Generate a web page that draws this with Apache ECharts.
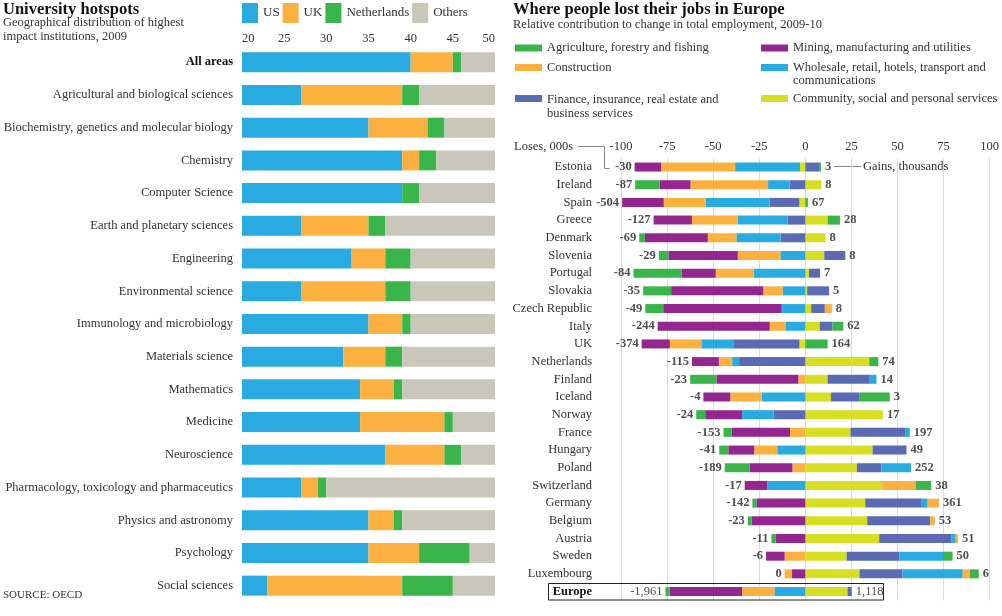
<!DOCTYPE html>
<html><head><meta charset="utf-8">
<script src="https://cdn.jsdelivr.net/npm/echarts@6/dist/echarts.min.js"></script>
<style>html,body{margin:0;padding:0;background:#fff}#c{width:1002px;height:616px}</style>
</head><body><div id="c"></div>
<script>
// ---------- Left chart data: University hotspots ----------
const fields = ['All areas','Agricultural and biological sciences','Biochemistry, genetics and molecular biology','Chemistry','Computer Science','Earth and planetary sciences','Engineering','Environmental science','Immunology and microbiology','Materials science','Mathematics','Medicine','Neuroscience','Pharmacology, toxicology and pharmaceutics','Physics and astronomy','Psychology','Social sciences'];
const usVals     = [40,27,35,39,39,27,33,27,35,32,34,34,37,27,35,35,23];
const ukVals     = [5,12,7,2,0,8,4,10,4,5,4,10,7,2,3,6,16];
const nlVals     = [1,2,2,2,2,2,3,3,1,2,1,1,2,1,1,6,6];
const otherVals  = [4,9,6,7,9,13,10,10,10,11,11,5,4,20,11,3,5];
const leftTicks  = [20,25,30,35,40,45,50];

// ---------- Right chart data: Where people lost their jobs ----------
const countries = ['Estonia','Ireland','Spain','Greece','Denmark','Slovenia','Portugal','Slovakia','Czech Republic','Italy','UK','Netherlands','Finland','Iceland','Norway','France','Hungary','Poland','Switzerland','Germany','Belgium','Austria','Sweden','Luxembourg','Europe'];
const community    = [-2.9,8.7,-3.2,12.1,11.0,10.3,2.0,1.0,3.2,7.8,-3.2,34.7,12.1,13.9,42.1,24.5,36.5,28.0,41.7,32.5,33.6,40.1,22.4,29.4,22.9];
const finance      = [7.4,-8.5,-16.2,-9.7,-13.4,11.4,6.0,11.9,7.4,7.0,-35.9,-35.9,22.9,15.3,-17.3,30.0,18.4,13.2,0,30.7,34.1,39.0,28.7,23.3,2.3];
const wholesale    = [-35.2,-11.7,-34.7,-26.9,-24.0,-13.5,-28.0,-12.3,-12.8,-10.5,-17.3,-3.8,3.6,-23.6,-17.0,2.2,-15.2,16.2,-20.6,3.2,0,2.5,23.6,32.7,-16.8];
const construction = [-40.1,-42.1,-22.7,-24.9,-15.5,-23.1,-20.6,-10.5,3.8,-8.8,-17.1,-7.2,-3.8,-17.1,0,-8.3,-12.5,-7.0,18.1,6.1,2.5,1.3,-11.2,3.8,-17.5];
const mining       = [-14.4,-16.8,-22.6,-20.8,-34.1,-37.7,-18.4,-50.0,-64.3,-60.8,-15.3,-14.6,-44.4,-14.6,-20.0,-31.8,-14.1,-23.3,-12.3,-26.5,-29.2,-16.2,-10.1,-7.2,-39.4];
const agriculture  = [1.1,-13.2,1.4,6.7,-3.1,-5.2,-26.2,-15.2,-9.7,5.8,12.1,4.9,-14.3,16.6,-4.9,-4.3,-4.9,-13.4,8.5,-2.2,-2.0,-2.2,5.2,4.9,-2.2];
const constructionOuter = [0,0,0,0,0,0,0,0,0,0,0,0,0,0,0,0,0,0,0,0,0,0,0,-4.0,0];
const lossLabels = ['-30','-87','-504','-127','-69','-29','-84','-35','-49','-244','-374','-115','-23','-4','-24','-153','-41','-189','-17','-142','-23','-11','-6','0','-1,961'];
const gainLabels = ['3','8','67','28','8','8','7','5','8','62','164','74','14','3','17','197','49','252','38','361','53','51','50','6','1,118'];
const rightTicks = [-100,-75,-50,-25,0,25,50,75,100];

const FONT = 'Liberation Serif';
const C = {us:'#29abe2', uk:'#fbb040', nl:'#39b54a', oth:'#c9c7b9',
  agri:'#39b54a', cons:'#fbb040', fin:'#5a6bb3', min:'#93278f', whole:'#29abe2', comm:'#d7df23'};

const sectorList = [community, finance, wholesale, construction, mining, agriculture, constructionOuter];
const negSum = countries.map((_, i) => sectorList.reduce((s, a) => s + Math.min(a[i], 0), 0));
const posSum = countries.map((_, i) => sectorList.reduce((s, a) => s + Math.max(a[i], 0), 0));

const chart = echarts.init(document.getElementById('c'), null, {renderer: 'canvas'});

function leftBar(name, data, color) {
  return {name, type:'bar', stack:'uni', data, xAxisIndex:0, yAxisIndex:0, barWidth:20,
    itemStyle:{color}, emphasis:{disabled:true}, clip:true};
}
function rightBar(name, data, color) {
  return {name, type:'bar', stack:'jobs', data, xAxisIndex:1, yAxisIndex:1, barWidth:9,
    itemStyle:{color}, emphasis:{disabled:true}};
}

const legendItems = [
  ['Agriculture, forestry and fishing', C.agri, 515, 48, 48],
  ['Construction', C.cons, 515, 67.5, 67.5],
  ['Finance, insurance, real estate and\nbusiness services', C.fin, 515, 98.5, 100],
  ['Mining, manufacturing and utilities', C.min, 761, 48, 48],
  ['Wholesale, retail, hotels, transport and\ncommunications', C.whole, 761, 67.5, 67.5],
  ['Community, social and personal services', C.comm, 761, 98.5, 99]
];
const graphics = [];
legendItems.forEach(([t, col, x, iy, ty]) => {
  graphics.push({type:'rect', shape:{x:x, y:iy-3.5, width:27, height:7}, style:{fill:col}});
  graphics.push({type:'text', style:{text:t, x:x+32, y:ty-6.75, fill:'#333', font:'12.5px "'+FONT+'"', lineHeight:13.5, verticalAlign:'top', align:'left'}});
});
graphics.push(
  {type:'text', style:{text:'University hotspots', x:3, y:9.5, fill:'#111', font:'bold 16.5px "'+FONT+'"', verticalAlign:'middle'}},
  {type:'text', style:{text:'Geographical distribution of highest\nimpact institutions, 2009', x:3, y:16, fill:'#333', font:'12.5px "'+FONT+'"', lineHeight:14, verticalAlign:'top'}},
  {type:'text', style:{text:'Where people lost their jobs in Europe', x:513, y:9.5, fill:'#111', font:'bold 16.5px "'+FONT+'"', verticalAlign:'middle'}},
  {type:'text', style:{text:'Relative contribution to change in total employment, 2009-10', x:513, y:24.5, fill:'#333', font:'12.5px "'+FONT+'"', verticalAlign:'middle'}},
  {type:'text', style:{text:'SOURCE: OECD', x:3, y:595, fill:'#333', font:'11px "'+FONT+'"', verticalAlign:'middle'}},
  {type:'text', style:{text:'Loses, 000s', x:514, y:146.5, fill:'#333', font:'12.5px "'+FONT+'"', verticalAlign:'middle'}},
  {type:'polyline', shape:{points:[[578,146.5],[604.5,146.5],[604.5,168.5],[609.5,168.5]]}, style:{stroke:'#888', lineWidth:1, fill:null}},
  {type:'text', style:{text:'Gains, thousands', x:863, y:166.5, fill:'#333', font:'12.5px "'+FONT+'"', verticalAlign:'middle'}},
  {type:'line', shape:{x1:834, y1:166.5, x2:861, y2:166.5}, style:{stroke:'#888', lineWidth:1}},
  {type:'rect', shape:{x:548.5, y:583.5, width:335, height:16.5}, style:{fill:null, stroke:'#222', lineWidth:1}, z:10}
);

const option = {
  animation:false,
  backgroundColor:'#fff',
  textStyle:{fontFamily:FONT},
  legend:{
    data:['US','UK','Netherlands','Others'], left:242, top:3, padding:0, icon:'rect', itemWidth:16, itemHeight:20,
    itemGap:3, selectedMode:false, textStyle:{fontSize:13, color:'#333', fontFamily:FONT}
  },
  grid:[
    {left:242, width:253, top:45.9, height:556.1},
    {left:621, width:370, top:158.2, height:442.2}
  ],
  xAxis:[
    {type:'value', gridIndex:0, position:'top', min:leftTicks[0], max:leftTicks[leftTicks.length-1], interval:5, startValue:20,
      splitLine:{show:false}, axisLine:{show:false}, axisTick:{show:false},
      axisLabel:{fontSize:12.5, color:'#333', fontFamily:FONT, margin:1, alignMinLabel:'left', alignMaxLabel:'right'}},
    {type:'value', gridIndex:1, position:'top', min:rightTicks[0], max:rightTicks[rightTicks.length-1], interval:25,
      splitLine:{show:true, lineStyle:{color:'#dcdcdc', width:1}}, axisLine:{show:false}, axisTick:{show:false},
      axisLabel:{fontSize:12.5, color:'#333', fontFamily:FONT, margin:5}}
  ],
  yAxis:[
    {type:'category', gridIndex:0, data:fields, inverse:true, axisLine:{show:false}, axisTick:{show:false},
      axisLabel:{fontSize:12.5, color:'#333', fontFamily:FONT, margin:9,
        formatter:v => v === 'All areas' ? '{b|All areas}' : v,
        rich:{b:{fontWeight:'bold', fontSize:12.5, color:'#111', fontFamily:FONT}}}},
    {type:'category', gridIndex:1, data:countries, inverse:true, axisLine:{show:false}, axisTick:{show:false},
      axisLabel:{fontSize:12.5, color:'#333', fontFamily:FONT, margin:29,
        formatter:v => v === 'Europe' ? '{b|Europe}' : v,
        rich:{b:{fontWeight:'bold', fontSize:12.5, color:'#111', fontFamily:FONT}}}}
  ],
  graphic:graphics,
  series:[
    leftBar('US', usVals, C.us),
    leftBar('UK', ukVals, C.uk),
    leftBar('Netherlands', nlVals, C.nl),
    leftBar('Others', otherVals, C.oth),
    rightBar('Community, social and personal services', community, C.comm),
    rightBar('Finance, insurance, real estate and business services', finance, C.fin),
    rightBar('Wholesale, retail, hotels, transport and communications', wholesale, C.whole),
    rightBar('Construction', construction, C.cons),
    rightBar('Mining, manufacturing and utilities', mining, C.min),
    rightBar('Agriculture, forestry and fishing', agriculture, C.agri),
    rightBar('Construction (outer)', constructionOuter, C.cons),
    {name:'Losses', type:'scatter', xAxisIndex:1, yAxisIndex:1, symbolSize:0, silent:true, z:5,
      data:negSum.map((v, i) => ({value:[v, i], label:{formatter:lossLabels[i], fontWeight: countries[i]==='Europe' ? 'normal' : 'bold'}})),
      label:{show:true, position:'left', distance:3, fontSize:12.5, color:'#222', fontFamily:FONT}},
    {name:'Gains', type:'scatter', xAxisIndex:1, yAxisIndex:1, symbolSize:0, silent:true, z:5,
      data:posSum.map((v, i) => ({value:[v, i], label:{formatter:gainLabels[i], fontWeight: countries[i]==='Europe' ? 'normal' : 'bold'}})),
      label:{show:true, position:'right', distance:4, fontSize:12.5, color:'#222', fontFamily:FONT}}
  ]
};
chart.setOption(option);
</script>
</body></html>
